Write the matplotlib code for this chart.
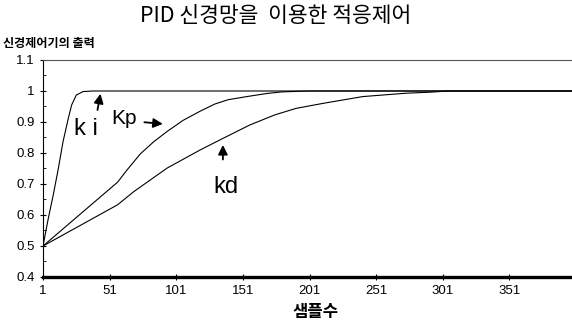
# PID 신경망 적응제어 출력 그래프 재현
import numpy as np
import matplotlib.pyplot as plt

plt.rcParams['font.family'] = ['Liberation Sans', 'Noto Sans CJK KR', 'DejaVu Sans']
plt.rcParams['font.size'] = 9

KR = ['Noto Sans CJK KR', 'DejaVu Sans']

# 데이터
ki_x = [1, 5, 8.7, 12.5, 16, 20, 22.5, 26, 31, 38, 398]
ki_y = [0.5, 0.59, 0.665, 0.75, 0.836, 0.912, 0.955, 0.987, 0.998, 1.0, 1.0]

kp_x = [1, 57, 64, 74, 84, 94, 106, 119, 130, 140, 154, 169, 180, 200, 398]
kp_y = [0.5, 0.706, 0.745, 0.797, 0.836, 0.869, 0.905, 0.935, 0.958, 0.972, 0.982, 0.992, 0.997, 1.0, 1.0]

kd_x = [1, 57, 69, 94, 119, 136, 156, 175, 191, 211, 241, 274, 291, 305, 398]
kd_y = [0.5, 0.633, 0.675, 0.751, 0.81, 0.847, 0.89, 0.923, 0.944, 0.96, 0.982, 0.993, 0.996, 1.0, 1.0]

x_ticks = [1, 51, 101, 151, 201, 251, 301, 351]
y_ticks = [0.4, 0.5, 0.6, 0.7, 0.8, 0.9, 1.0, 1.1]
y_labels = ['0.4', '0.5', '0.6', '0.7', '0.8', '0.9', '1', '1.1']

fig = plt.figure(figsize=(5.72, 3.25), dpi=100)
ax = fig.add_axes([0.0752, 0.1477, 0.9248, 0.6677])

for xs, ys in [(ki_x, ki_y), (kp_x, kp_y), (kd_x, kd_y)]:
    ax.plot(xs, ys, color='black', linewidth=0.8)

ax.set_xlim(1, 398)
ax.set_ylim(0.4, 1.1)
ax.set_xticks(x_ticks)
ax.set_yticks(y_ticks)
ax.set_yticklabels(y_labels)
ax.set_yticks(np.arange(0.45, 1.1, 0.1), minor=True)
ax.tick_params(axis='both', which='major', direction='inout', length=4, width=0.8, pad=4, labelsize=9.5)
ax.tick_params(axis='y', which='minor', direction='in', length=2, width=0.6)

ax.spines['right'].set_visible(False)
ax.spines['bottom'].set_linewidth(2.4)
ax.spines['left'].set_linewidth(0.8)
ax.spines['top'].set_linewidth(0.8)
ax.spines['top'].set_color('#555555')

# 라벨과 화살표
arrow = dict(arrowstyle='-|>', color='black', lw=1.3, mutation_scale=14)
ax.text(33, 0.878, 'k i', fontsize=17, ha='center', va='center')
ax.annotate('', xy=(44.5, 1.0), xytext=(41.5, 0.93), arrowprops=arrow)
ax.text(62, 0.912, 'Kp', fontsize=15, ha='center', va='center')
ax.annotate('', xy=(93, 0.893), xytext=(75, 0.9), arrowprops=arrow)
ax.text(138, 0.69, 'kd', fontsize=17, ha='center', va='center')
ax.annotate('', xy=(136, 0.835), xytext=(136, 0.77), arrowprops=arrow)

fig.text(0.4825, 0.951, 'PID 신경망을  이용한 적응제어', family=KR, fontsize=15.5,
         ha='center', va='center')
fig.text(0.005, 0.866, '신경제어기의 출력', family=KR, fontsize=8.7, fontweight='bold',
         ha='left', va='center')
fig.text(0.551, 0.04, '샘플수', family=KR, fontsize=12, fontweight='bold',
         ha='center', va='center')

fig.savefig('out.png', dpi=100)
